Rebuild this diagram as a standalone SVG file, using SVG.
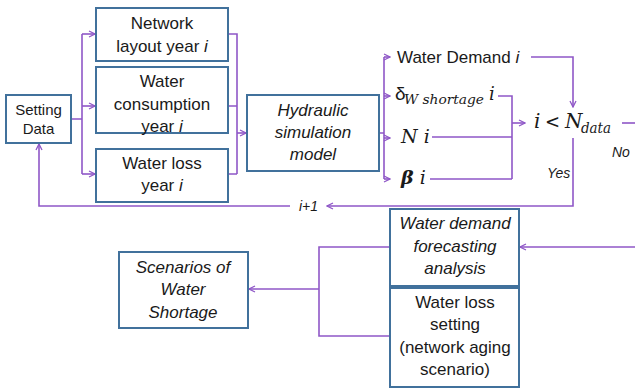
<svg xmlns="http://www.w3.org/2000/svg" width="635" height="389" viewBox="0 0 635 389">
<defs>
<style>
.box{fill:#fff;stroke:#41719C;stroke-width:2}
.t{font-family:"Liberation Sans",Arial,sans-serif;font-size:17px;fill:#1a1a1a;text-anchor:middle}
.ti{font-family:"Liberation Sans",Arial,sans-serif;font-size:17px;fill:#1a1a1a;text-anchor:middle;font-style:italic}
.m{font-family:"DejaVu Serif","Liberation Serif",serif;font-style:italic;fill:#1a1a1a}
.c{fill:none;stroke:#8F57C7;stroke-width:1.6}
.ca{fill:none;stroke:#8F57C7;stroke-width:1.6;marker-end:url(#arr)}
.lbl{font-family:"Liberation Sans",Arial,sans-serif;font-style:italic;font-size:14px;fill:#1a1a1a}
</style>
<marker id="arr" viewBox="0 0 8 8" refX="7" refY="4" markerWidth="8" markerHeight="8" orient="auto" markerUnits="userSpaceOnUse">
<path d="M1,1 L7,4 L1,7" fill="none" stroke="#8F57C7" stroke-width="1.3"/>
</marker>
</defs>
<rect width="635" height="389" fill="#fff"/>

<g id="connectors">
<path class="c" d="M71,119 H82 M82,34 V174"/>
<path class="ca" d="M82,34 H95"/>
<path class="ca" d="M82,106 H95"/>
<path class="ca" d="M82,174 H95"/>
<path class="c" d="M228,34 H237 V174 M228,106 H237 M228,174 H237"/>
<path class="ca" d="M237,133 H246"/>
<path class="c" d="M379,133 H384 M384,57 V179"/>
<path class="ca" d="M384,57 H390"/>
<path class="ca" d="M384,96 H390"/>
<path class="ca" d="M384,138 H390"/>
<path class="ca" d="M384,179 H390"/>
<path class="c" d="M498,96 H512 V179 M432,137 H512 M430,179 H512"/>
<path class="ca" d="M512,123 H525"/>
<path class="ca" d="M531,57 H573 V107"/>
<path class="c" d="M622,123 H635"/>
<path class="ca" d="M573,138 V206 H327"/>
<path class="ca" d="M290,206 H39 V144"/>
<path class="ca" d="M635,247 H520"/>
<path class="c" d="M390,247 H319 V336 H390"/>
<path class="ca" d="M319,289 H249"/>
</g>

<g id="setting-data">
<rect class="box" x="6" y="95" width="65" height="48"/>
<text class="t" style="font-size:15px" x="38.5" y="115">Setting</text>
<text class="t" style="font-size:15px" x="38.5" y="134">Data</text>
</g>

<g id="network-layout">
<rect class="box" x="96" y="8" width="132" height="53"/>
<text class="t" x="162" y="29">Network</text>
<text class="t" x="162" y="52">layout year <tspan font-style="italic">i</tspan></text>
</g>

<g id="water-consumption">
<rect class="box" x="96" y="67" width="132" height="66"/>
<text class="t" x="162" y="87">Water</text>
<text class="t" x="162" y="110">consumption</text>
<text class="t" x="162" y="132">year <tspan font-style="italic">i</tspan></text>
</g>

<g id="water-loss">
<rect class="box" x="96" y="149" width="132" height="53"/>
<text class="t" x="162" y="169">Water loss</text>
<text class="t" x="162" y="191">year <tspan font-style="italic">i</tspan></text>
</g>

<g id="hydraulic">
<rect class="box" x="247" y="95" width="132" height="76"/>
<text class="ti" x="313" y="116">Hydraulic</text>
<text class="ti" x="313" y="138">simulation</text>
<text class="ti" x="313" y="160">model</text>
</g>

<g id="water-demand">
<text x="397" y="63" style="font-family:'Liberation Sans',Arial,sans-serif;font-size:17px;fill:#1a1a1a">Water Demand <tspan font-style="italic">i</tspan></text>
</g>

<g id="delta">
<text x="395" y="100" style="font-family:'Liberation Sans',Arial,sans-serif;font-size:19px;fill:#1a1a1a">δ</text>
<text class="m" x="404" y="104" style="font-size:13.5px" textLength="80" lengthAdjust="spacingAndGlyphs">W shortage</text>
<text class="m" x="489" y="100" style="font-size:18px">i</text>
</g>

<g id="n-i">
<text class="m" x="401" y="143" style="font-size:19px">N i</text>
</g>

<g id="beta-i">
<text class="m" x="401" y="184" style="font-size:19px"><tspan font-weight="bold">β</tspan> i</text>
</g>

<g id="decision">
<text class="m" x="534" y="128" style="font-size:20px">i</text>
<text x="545" y="128" style="font-family:'DejaVu Serif',serif;font-size:18px;fill:#1a1a1a">&lt;</text>
<text class="m" x="565" y="128" style="font-size:20px">N</text>
<text class="m" x="581" y="133" style="font-size:14px" textLength="30" lengthAdjust="spacingAndGlyphs">data</text>
</g>

<g id="labels">
<text class="lbl" x="612" y="157">No</text>
<text class="lbl" x="547" y="178">Yes</text>
<text class="lbl" x="299" y="211">i+1</text>
</g>

<g id="wdfa">
<rect class="box" x="390" y="209" width="129" height="77"/>
<text class="ti" x="455" y="229">Water demand</text>
<text class="ti" x="455" y="252">forecasting</text>
<text class="ti" x="455" y="274">analysis</text>
</g>

<g id="wls">
<rect class="box" x="390" y="288" width="129" height="99"/>
<text class="t" x="455" y="308">Water loss</text>
<text class="t" x="455" y="330">setting</text>
<text class="t" x="455" y="353">(network aging</text>
<text class="t" x="455" y="375">scenario)</text>
</g>

<g id="scenarios">
<rect class="box" x="119" y="252" width="129" height="76"/>
<text class="ti" x="183" y="273">Scenarios of</text>
<text class="ti" x="183" y="295">Water</text>
<text class="ti" x="183" y="318">Shortage</text>
</g>
</svg>
